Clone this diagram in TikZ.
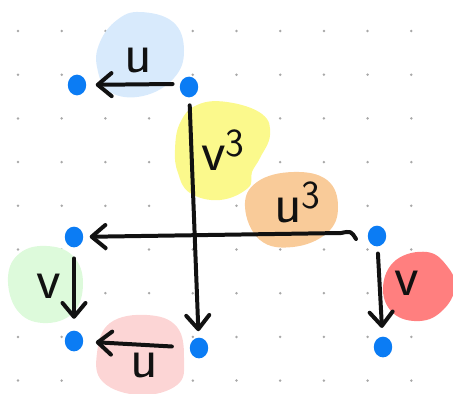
\documentclass[tikz,border=0pt]{standalone}
\usetikzlibrary{arrows.meta,shapes.geometric}
\definecolor{skdot}{HTML}{0B7CF4}
\definecolor{skgrid}{HTML}{A8A8A8}
\definecolor{skink}{HTML}{111111}
\definecolor{blobblue}{HTML}{D8EAFC}
\definecolor{blobyellow}{HTML}{FBF98C}
\definecolor{blobpeach}{HTML}{F9CB99}
\definecolor{blobgreen}{HTML}{DDFADB}
\definecolor{blobpink}{HTML}{FCD5D5}
\definecolor{blobred}{HTML}{FF7F7F}
\tikzset{
  vtx/.style={ellipse, fill=skdot, minimum width=12pt, minimum height=13.5pt, inner sep=0pt},
  hand/.style={-{Straight Barb[length=9pt, width=15pt, round]}, line width=2.6pt, line cap=round, line join=round, color=skink},
  lbl/.style={font=\sffamily\fontsize{37}{37}\selectfont, inner sep=0pt, text=skink},
  blob/.style={smooth cycle, tension=0.7},
}
\begin{document}
\begin{tikzpicture}[x=0.2288mm, y=-0.2288mm]
  \useasboundingbox (0,0) rectangle (453,393);
  % dotted paper
  \foreach \i in {0,...,9}
    \foreach \j in {0,...,8}
      \fill[skgrid] (18+43.7*\i, 31+43.7*\j) circle (0.9pt);
  % highlighter blobs
  \fill[blobblue] plot[blob] coordinates {(140,12) (173,22) (184,50) (174,78) (143,96) (110,92) (97,67) (100,42) (117,20)};
  \fill[blobyellow] plot[blob] coordinates {(227,102) (262,114) (270,135) (260,158) (252,172) (248,188) (220,200) (190,193) (178,173) (175,150) (180,123) (197,105)};
  \fill[blobpeach] plot[blob] coordinates {(245,207) (257,182) (293,172) (327,180) (338,207) (327,233) (293,247) (260,240)};
  \fill[blobgreen] plot[blob] coordinates {(8,277) (20,253) (47,246) (73,256) (83,283) (73,313) (43,323) (17,310)};
  \fill[blobpink] plot[blob] coordinates {(97,353) (110,323) (147,315) (177,327) (184,360) (177,385) (140,395) (103,382)};
  \fill[blobred] plot[blob] coordinates {(383,287) (396,260) (427,252) (447,266) (455,287) (443,310) (420,321) (393,313)};
  % points
  \node[vtx] (A) at (77,85) {};
  \node[vtx] (B) at (189,87) {};
  \node[vtx] (C) at (74,237) {};
  \node[vtx] (D) at (377,236) {};
  \node[vtx] (E) at (74,341) {};
  \node[vtx] (F) at (199,348) {};
  \node[vtx] (G) at (383,347) {};
  % labels
  \node[lbl, anchor=base] (lu) at (138,72) {u};
  \node[lbl, anchor=base west] (lv3) at (201,170) {v\textsuperscript{3}};
  \node[lbl, anchor=base west] (lu3) at (274,222) {u\textsuperscript{3}};
  \node[lbl, anchor=base] (lvl) at (49,298) {v};
  \node[lbl, anchor=base] (lub) at (144,377) {u};
  \node[lbl, anchor=base] (lvr) at (407,295) {v};
  % strokes
  \draw[hand, shorten <=4.5pt, shorten >=6pt] ([yshift=2pt]B.west) -- (A);
  \draw[hand, shorten <=5pt, shorten >=4pt] (B) -- (F);
  \draw[hand, shorten >=4pt] ([shift={(-21,3)}]D.center) .. controls ([shift={(-26,-5)}]D.center) .. ([shift={(-36,-3)}]D.center) -- (C);
  \draw[hand, shorten <=7pt, shorten >=7.5pt] (C) -- (E);
  \draw[hand, shorten <=11.5pt, shorten >=8pt] (F) -- (E);
  \draw[hand, shorten <=4.5pt, shorten >=5.5pt] (D) -- (G);
\end{tikzpicture}
\end{document}
